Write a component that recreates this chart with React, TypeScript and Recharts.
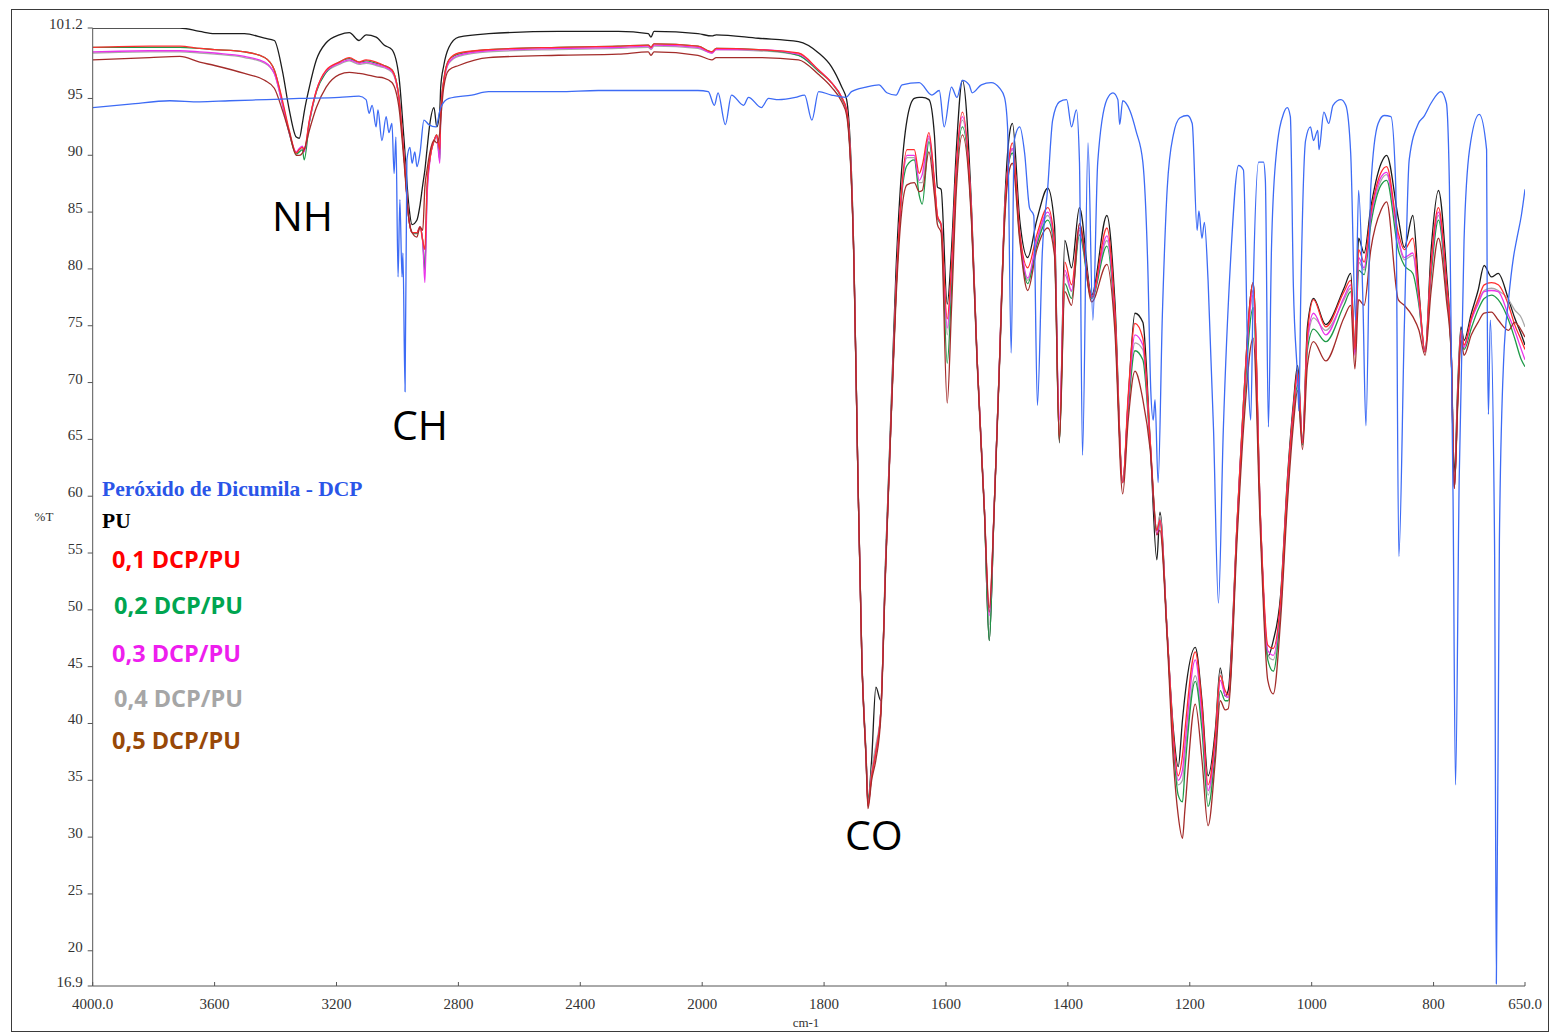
import React from 'react';
import { LineChart, Line, XAxis, YAxis } from 'recharts';

// FTIR transmittance spectra (%T vs. wavenumber, cm-1).
// The wavenumber axis is compressed 2:1 above 2000 cm-1, as on the spectrometer printout.

const puWavenumbers = [
  4000, 3813, 3714, 3649, 3600, 3502, 3436, 3404, 3378, 3355,
  3332, 3322, 3312, 3306, 3289, 3266, 3234, 3191, 3158, 3126,
  3103, 3070, 3044, 3018, 2995, 2979, 2962, 2952, 2936, 2926,
  2917, 2910, 2903, 2894, 2880, 2871, 2861, 2858, 2848, 2831,
  2799, 2701, 2472, 2275, 2177, 2168, 2158, 2014, 1984, 1977,
  1908, 1842, 1809, 1788, 1771, 1763, 1751, 1745, 1738, 1731,
  1728, 1722, 1715, 1707, 1699, 1690, 1682, 1674, 1664, 1652,
  1644, 1639, 1628, 1619, 1614, 1608, 1598, 1591, 1583, 1573,
  1558, 1549, 1537, 1529, 1521, 1512, 1504, 1496, 1491, 1479,
  1466, 1451, 1433, 1422, 1414, 1405, 1394, 1381, 1361, 1336,
  1323, 1310, 1301, 1290, 1277, 1265, 1254, 1249, 1237, 1227,
  1219, 1212, 1208, 1191, 1180, 1170, 1158, 1150, 1142, 1137,
  1122, 1112, 1096, 1084, 1072, 1063, 1051, 1040, 1030, 1023,
  1015, 1007, 997, 977, 947, 936, 929, 923, 914, 903,
  886, 877, 858, 848, 834, 824, 814, 804, 792, 779,
  771, 766, 760, 755, 750, 738, 727, 717, 705, 694,
  677, 667, 656, 650,
];

const puValues = [
  101.2, 101.2, 101.2, 100.9, 100.7, 100.7, 100.3, 100.1, 97.5, 94.0,
  91.6, 91.5, 92.8, 93.8, 96.0, 98.4, 99.9, 100.6, 100.8, 100.1,
  100.6, 100.4, 99.7, 99.3, 96.9, 91.6, 85.4, 83.9, 84.3, 85.6,
  87.4, 88.7, 90.5, 92.7, 94.2, 92.5, 94.0, 96.0, 97.9, 99.5,
  100.4, 100.7, 100.9, 100.9, 100.7, 100.4, 100.9, 100.7, 100.5, 100.6,
  100.3, 100.0, 99.0, 97.8, 96.0, 94.9, 80.9, 63.3, 45.8, 37.1,
  33.2, 36.8, 43.2, 42.0, 54.6, 67.8, 79.9, 87.8, 93.1, 95.0,
  95.1, 95.1, 94.9, 91.8, 87.2, 87.0, 76.9, 81.7, 90.5, 96.6,
  85.3, 72.2, 58.9, 47.3, 58.9, 72.2, 85.3, 91.8, 92.8, 84.3,
  81.0, 84.3, 87.1, 83.9, 64.7, 82.5, 80.1, 85.4, 77.7, 84.7,
  77.3, 61.2, 68.5, 76.1, 75.3, 64.9, 54.4, 58.6, 47.9, 39.5,
  36.2, 40.3, 42.4, 46.7, 42.0, 35.4, 39.5, 44.9, 42.4, 42.9,
  58.1, 68.2, 78.8, 58.1, 45.9, 47.3, 51.3, 61.4, 68.2, 71.5,
  64.9, 74.9, 77.4, 75.1, 78.3, 79.6, 73.2, 82.7, 81.4, 85.4,
  89.3, 90.0, 84.5, 81.9, 84.7, 78.1, 72.7, 81.7, 86.9, 79.9,
  72.6, 62.1, 70.2, 74.9, 73.7, 76.1, 78.1, 80.3, 79.3, 79.6,
  77.3, 75.7, 74.2, 73.3,
];

const dcp01Values = [
  99.5, 99.6, 99.6, 99.4, 99.3, 99.1, 98.6, 97.5, 94.9, 92.2,
  90.2, 90.5, 90.7, 90.5, 93.1, 95.7, 97.5, 98.2, 98.6, 98.2,
  98.4, 98.2, 97.9, 97.5, 95.1, 90.2, 84.3, 83.2, 83.2, 83.7,
  82.5, 81.7, 87.2, 89.6, 91.3, 91.8, 90.5, 93.7, 96.6, 98.4,
  99.0, 99.3, 99.5, 99.6, 99.7, 99.5, 99.8, 99.6, 99.1, 99.4,
  99.3, 99.0, 97.5, 96.4, 95.1, 94.0, 80.6, 63.2, 45.6, 36.8,
  32.8, 35.4, 37.5, 41.0, 53.9, 66.9, 78.1, 86.1, 90.5, 90.5,
  88.4, 89.1, 92.0, 87.8, 84.7, 83.9, 75.6, 80.3, 89.1, 93.8,
  84.7, 72.2, 58.9, 50.2, 58.9, 72.2, 84.7, 90.0, 91.1, 83.2,
  80.1, 83.0, 85.4, 82.5, 65.2, 80.6, 78.6, 83.9, 77.5, 83.6,
  76.4, 61.2, 68.9, 75.2, 73.9, 64.9, 57.0, 57.9, 47.9, 39.0,
  35.4, 37.2, 39.4, 46.3, 41.6, 34.6, 39.0, 44.2, 42.9, 42.5,
  58.1, 68.0, 78.8, 58.1, 46.9, 46.6, 50.9, 61.0, 67.7, 71.1,
  64.7, 74.2, 77.3, 74.9, 78.0, 79.0, 72.9, 81.7, 80.6, 84.9,
  88.5, 89.0, 83.2, 81.7, 82.7, 77.7, 72.7, 80.6, 85.4, 79.0,
  72.6, 60.7, 69.3, 74.6, 73.3, 75.7, 77.3, 78.6, 78.8, 78.6,
  76.8, 75.1, 73.7, 72.9,
];

const dcp02Values = [
  99.5, 99.5, 99.5, 99.4, 99.3, 99.1, 98.6, 97.5, 94.7, 92.0,
  90.1, 90.3, 90.5, 89.6, 92.9, 95.6, 97.3, 98.2, 98.5, 98.2,
  98.3, 98.1, 97.9, 97.5, 95.1, 90.2, 84.3, 83.2, 83.1, 83.7,
  82.4, 79.9, 86.9, 89.6, 91.3, 91.8, 89.6, 93.7, 96.6, 98.4,
  98.9, 99.3, 99.5, 99.6, 99.7, 99.5, 99.8, 99.6, 99.1, 99.4,
  99.3, 98.8, 97.4, 96.4, 95.0, 93.8, 80.5, 63.2, 45.6, 36.8,
  33.0, 35.4, 37.5, 41.0, 53.9, 66.9, 77.9, 85.6, 89.1, 89.6,
  86.5, 85.7, 91.2, 87.4, 84.5, 83.8, 71.7, 78.1, 88.0, 92.5,
  84.3, 72.0, 58.8, 47.3, 58.8, 72.0, 84.3, 89.6, 90.2, 82.8,
  78.7, 82.1, 84.3, 81.7, 64.9, 78.7, 77.4, 83.0, 77.4, 82.0,
  75.5, 61.2, 67.6, 72.8, 72.0, 64.5, 57.0, 57.7, 47.8, 38.1,
  33.7, 33.1, 35.9, 43.7, 39.4, 32.7, 37.6, 42.9, 42.0, 42.0,
  57.5, 67.1, 76.6, 57.5, 45.6, 44.6, 50.0, 60.1, 67.1, 69.8,
  64.5, 72.9, 74.7, 73.6, 76.8, 78.0, 72.7, 79.9, 79.5, 83.9,
  87.4, 87.8, 81.7, 80.3, 79.6, 76.8, 72.7, 79.5, 84.3, 78.1,
  72.4, 60.7, 68.9, 74.2, 72.9, 74.8, 76.4, 77.4, 77.7, 77.3,
  75.5, 73.9, 72.0, 71.4,
];

const dcp03Values = [
  99.1, 99.2, 99.2, 99.1, 99.0, 98.7, 98.2, 97.2, 94.6, 92.0,
  90.3, 90.6, 90.8, 90.3, 93.0, 95.7, 97.4, 98.1, 98.4, 98.1,
  98.2, 98.0, 97.8, 97.4, 95.0, 90.2, 84.3, 83.2, 83.2, 83.7,
  82.4, 78.8, 86.1, 89.4, 91.3, 91.7, 89.3, 93.5, 96.5, 98.2,
  98.8, 99.2, 99.4, 99.5, 99.6, 99.4, 99.7, 99.5, 99.0, 99.3,
  99.3, 98.9, 97.5, 96.4, 95.1, 93.9, 80.6, 63.2, 45.6, 36.8,
  32.8, 35.4, 37.5, 41.0, 53.9, 66.9, 78.1, 85.9, 90.0, 90.0,
  87.8, 88.3, 91.7, 87.6, 84.6, 83.9, 74.8, 79.9, 88.9, 93.4,
  84.6, 72.2, 58.9, 49.5, 58.9, 72.2, 84.6, 89.8, 90.6, 83.1,
  79.2, 82.5, 85.0, 82.1, 66.7, 79.9, 78.1, 83.6, 77.5, 82.9,
  75.9, 61.2, 68.3, 74.2, 73.3, 64.7, 56.6, 57.9, 47.9, 38.7,
  35.0, 35.9, 38.1, 45.6, 40.7, 34.1, 38.5, 43.8, 42.5, 42.3,
  57.9, 67.8, 78.1, 57.9, 46.4, 46.0, 50.6, 60.7, 67.6, 70.7,
  64.7, 73.7, 76.1, 74.2, 77.5, 78.6, 72.4, 81.0, 80.1, 84.5,
  88.1, 88.5, 82.7, 81.0, 81.4, 77.3, 72.7, 80.2, 85.0, 78.7,
  72.6, 60.7, 69.2, 74.4, 73.1, 75.5, 76.9, 78.0, 78.1, 78.0,
  75.9, 74.6, 72.9, 72.0,
];

const dcp04Values = [
  99.0, 99.1, 99.1, 99.0, 98.9, 98.6, 98.1, 97.2, 94.5, 91.9,
  90.2, 90.5, 90.7, 90.5, 92.9, 95.6, 97.3, 98.0, 98.3, 98.0,
  98.1, 97.9, 97.7, 97.3, 95.0, 90.1, 84.3, 83.2, 83.2, 83.6,
  82.5, 80.3, 86.5, 89.5, 91.2, 91.6, 90.0, 93.5, 96.4, 98.1,
  98.7, 99.1, 99.3, 99.4, 99.5, 99.3, 99.6, 99.4, 99.0, 99.3,
  99.2, 98.8, 97.4, 96.4, 95.0, 93.9, 80.6, 63.2, 45.6, 36.8,
  32.8, 35.9, 38.1, 41.0, 53.9, 66.9, 78.1, 85.8, 89.8, 89.8,
  87.6, 87.6, 91.5, 87.6, 84.6, 83.9, 74.2, 79.5, 88.7, 93.1,
  84.5, 72.1, 58.9, 48.7, 58.9, 72.1, 84.5, 89.8, 90.5, 83.0,
  79.0, 82.4, 84.7, 81.9, 65.8, 79.5, 78.0, 83.4, 77.5, 82.5,
  75.8, 61.2, 68.0, 73.5, 72.9, 64.7, 57.0, 58.3, 47.9, 38.5,
  34.6, 35.0, 37.2, 44.2, 40.1, 33.7, 38.3, 44.5, 42.5, 42.3,
  57.7, 67.6, 77.7, 57.7, 46.0, 45.6, 50.4, 60.5, 67.4, 70.4,
  64.7, 73.5, 75.7, 74.6, 77.3, 78.3, 72.7, 80.6, 79.9, 84.3,
  87.8, 88.3, 82.5, 80.8, 81.2, 77.1, 72.7, 79.9, 84.7, 78.5,
  72.6, 60.7, 69.2, 74.6, 73.3, 75.5, 77.1, 78.1, 78.3, 78.1,
  77.3, 76.4, 75.7, 74.9,
];

const dcp05Values = [
  98.4, 98.6, 98.7, 98.2, 97.9, 97.2, 96.6, 95.9, 94.0, 92.0,
  90.0, 90.0, 90.2, 90.5, 92.2, 94.2, 96.0, 97.1, 97.3, 97.2,
  97.1, 96.9, 96.8, 96.4, 94.2, 89.6, 84.3, 83.2, 82.8, 83.7,
  83.4, 87.2, 88.7, 90.2, 91.3, 91.1, 92.0, 93.1, 96.0, 97.5,
  97.9, 98.6, 98.8, 98.9, 99.1, 98.8, 99.1, 98.8, 98.4, 98.6,
  98.6, 98.4, 97.1, 96.0, 94.7, 93.5, 80.3, 63.0, 45.4, 36.6,
  32.5, 35.0, 36.8, 40.5, 53.5, 66.7, 77.3, 84.3, 87.4, 87.6,
  86.8, 86.9, 90.3, 86.5, 83.9, 83.2, 68.2, 76.4, 86.9, 91.8,
  83.9, 71.8, 58.6, 49.8, 58.6, 71.8, 83.9, 88.7, 89.3, 82.5,
  78.1, 81.7, 83.6, 81.2, 64.9, 78.0, 76.8, 84.0, 77.1, 80.4,
  74.6, 60.2, 66.7, 71.0, 68.5, 64.1, 56.6, 57.0, 47.3, 36.8,
  31.9, 29.9, 32.4, 41.7, 36.8, 31.0, 36.8, 42.0, 41.2, 41.3,
  56.6, 65.8, 73.9, 56.6, 43.8, 42.6, 49.1, 59.2, 66.3, 69.3,
  64.1, 71.5, 73.6, 71.9, 75.7, 76.8, 71.2, 77.3, 76.8, 81.7,
  85.2, 85.9, 77.3, 76.8, 75.8, 74.6, 72.4, 78.1, 82.7, 77.3,
  72.4, 60.7, 68.5, 73.7, 72.4, 74.2, 75.3, 76.1, 76.2, 75.5,
  74.6, 75.3, 74.6, 74.0,
];

// Dicumyl peroxide (DCP) spectrum, sampled on its own grid
const dcpWavenumbers = [
  4000, 3878, 3747, 3649, 3551, 3430, 3322, 3191, 3126, 3103,
  3093, 3083, 3070, 3064, 3051, 3037, 3028, 3018, 3011, 3005,
  2998, 2992, 2985, 2982, 2975, 2969, 2959, 2952, 2943, 2936,
  2926, 2913, 2897, 2874, 2858, 2831, 2756, 2701, 2472, 2341,
  2177, 2014, 1990, 1980, 1974, 1962, 1952, 1932, 1924, 1903,
  1891, 1875, 1847, 1832, 1820, 1809, 1788, 1764, 1755, 1731,
  1710, 1697, 1682, 1672, 1644, 1623, 1611, 1603, 1591, 1582,
  1573, 1562, 1557, 1542, 1526, 1512, 1504, 1499, 1493, 1488,
  1479, 1471, 1463, 1456, 1450, 1442, 1433, 1425, 1414, 1402,
  1394, 1386, 1381, 1376, 1367, 1359, 1351, 1336, 1326, 1318,
  1315, 1310, 1298, 1288, 1277, 1269, 1264, 1260, 1257, 1252,
  1245, 1237, 1227, 1216, 1204, 1196, 1188, 1185, 1180, 1176,
  1170, 1161, 1153, 1145, 1133, 1120, 1112, 1104, 1100, 1096,
  1087, 1079, 1076, 1071, 1066, 1059, 1046, 1040, 1035, 1030,
  1023, 1021, 1018, 1010, 1002, 997, 990, 988, 980, 972,
  965, 952, 944, 936, 928, 923, 916, 911, 903, 891,
  881, 870, 862, 857, 848, 840, 825, 816, 804, 788,
  779, 774, 768, 764, 758, 750, 741, 725, 713, 712,
  710, 707, 700, 697, 692, 685, 677, 669, 664, 656,
  650,
];

const dcpValues = [
  94.2, 94.5, 94.8, 94.7, 94.8, 94.9, 95.0, 95.1, 95.2, 94.9,
  93.7, 94.4, 92.5, 94.0, 91.3, 93.4, 92.0, 92.8, 88.4, 91.6,
  79.3, 86.1, 79.3, 81.4, 69.2, 89.6, 90.7, 89.3, 90.3, 89.0,
  90.2, 93.1, 92.7, 92.5, 94.2, 95.0, 95.3, 95.6, 95.6, 95.7,
  95.7, 95.7, 95.6, 94.4, 95.5, 92.7, 95.3, 94.4, 95.1, 94.2,
  95.0, 94.9, 95.1, 95.3, 93.1, 95.6, 95.3, 95.1, 95.6, 96.0,
  96.2, 95.5, 95.3, 96.2, 96.4, 95.3, 95.7, 92.5, 96.0, 95.1,
  96.6, 96.2, 95.5, 96.2, 96.4, 95.9, 95.1, 92.5, 72.6, 91.3,
  92.5, 90.2, 85.4, 84.7, 68.0, 81.4, 87.2, 93.1, 94.7, 94.9,
  92.5, 94.0, 89.4, 63.6, 91.1, 75.5, 89.4, 94.9, 95.5, 94.9,
  92.7, 94.8, 93.9, 92.1, 89.4, 80.4, 69.3, 66.7, 68.5, 61.2,
  75.9, 87.1, 91.8, 93.3, 93.5, 92.8, 83.4, 85.1, 82.7, 84.1,
  79.0, 65.8, 50.6, 65.8, 80.8, 89.1, 88.7, 70.2, 66.7, 78.1,
  89.4, 89.4, 87.8, 66.1, 81.7, 89.6, 93.7, 94.2, 93.4, 78.4,
  70.2, 67.5, 77.3, 91.3, 92.5, 91.3, 92.2, 90.5, 93.8, 92.8,
  94.4, 94.9, 94.4, 90.2, 75.5, 86.9, 77.3, 66.2, 87.2, 92.8,
  93.5, 93.4, 87.2, 54.7, 74.9, 89.6, 92.8, 93.4, 94.6, 95.6,
  94.6, 87.2, 59.7, 34.6, 61.4, 82.5, 90.5, 93.6, 90.5, 77.3,
  67.2, 75.5, 56.1, 17.1, 56.1, 72.0, 77.3, 81.0, 82.5, 84.7,
  87.0,
];

const xTickWavenumbers = [4000, 3600, 3200, 2800, 2400, 2000, 1800, 1600, 1400, 1200, 1000, 800, 650];
const xTickLabels = ['4000.0', '3600', '3200', '2800', '2400', '2000', '1800', '1600', '1400', '1200', '1000', '800', '650.0'];
const yTicks = [16.9, 20, 25, 30, 35, 40, 45, 50, 55, 60, 65, 70, 75, 80, 85, 90, 95, 101.2];

const legendItems = [
  { label: 'Peróxido de Dicumila - DCP', color: '#2a55e8', x: 102, y: 496, serif: true },
  { label: 'PU', color: '#000000', x: 102, y: 528, serif: true },
  { label: '0,1 DCP/PU', color: '#ff0000', x: 112, y: 568, serif: false },
  { label: '0,2 DCP/PU', color: '#00a550', x: 114, y: 614, serif: false },
  { label: '0,3 DCP/PU', color: '#ee1eee', x: 112, y: 662, serif: false },
  { label: '0,4 DCP/PU', color: '#a6a6a6', x: 114, y: 707, serif: false },
  { label: '0,5 DCP/PU', color: '#984807', x: 112, y: 749, serif: false },
];

const bandLabels = [
  { label: 'NH', x: 272, y: 231 },
  { label: 'CH', x: 392, y: 440 },
  { label: 'CO', x: 845, y: 850 },
];

// Piecewise wavenumber axis: 4000-2000 at half the scale of 2000-650
const toAxis = (wn: number) => (wn >= 2000 ? 4000 - wn : 2000 + (2000 - wn) * 2);

const toPoints = (wns: number[], vals: number[]) => wns.map((w, i) => ({ x: toAxis(w), t: vals[i] }));

const series = [
  { name: 'PU', values: puValues, color: '#1c1c1c' },
  { name: '0,4 DCP/PU', values: dcp04Values, color: '#a9a9a9' },
  { name: '0,2 DCP/PU', values: dcp02Values, color: '#1f9a48' },
  { name: '0,3 DCP/PU', values: dcp03Values, color: '#ea34ea' },
  { name: '0,1 DCP/PU', values: dcp01Values, color: '#ff2e2e' },
  { name: '0,5 DCP/PU', values: dcp05Values, color: '#a32c2a' },
];

const xLabelByPos = new Map<number, string>(xTickWavenumbers.map((w, i) => [toAxis(w), xTickLabels[i]]));

const SERIF = "'Liberation Serif', 'DejaVu Serif', serif";
const SANS = "'Open Sans', 'Liberation Sans', sans-serif";

const XTick = (props: any) => {
  const { x, y, payload } = props;
  return (
    <g>
      <line x1={x} x2={x} y1={y - 10} y2={y - 14} stroke="#555" strokeWidth={1} />
      <text x={x} y={y + 13} textAnchor="middle" fontFamily={SERIF} fontSize={15} fill="#333">
        {xLabelByPos.get(payload.value) ?? ''}
      </text>
    </g>
  );
};

const YTick = (props: any) => {
  const { x, y, payload } = props;
  return (
    <g>
      <line x1={x + 5} x2={x + 10} y1={y} y2={y} stroke="#555" strokeWidth={1} />
      <text x={x} y={y + 1} textAnchor="end" fontFamily={SERIF} fontSize={15} fill="#333">
        {String(payload.value)}
      </text>
    </g>
  );
};

export default function App() {
  return (
    <div style={{ position: 'fixed', left: 0, top: 0, width: 1557, height: 1032, background: '#fff' }}>
      <LineChart width={1557} height={1032} margin={{ top: 28, right: 32, bottom: 16, left: 22.7 }}>
        <XAxis
          type="number"
          dataKey="x"
          domain={[0, 4700]}
          allowDataOverflow
          ticks={xTickWavenumbers.map(toAxis)}
          interval={0}
          height={30}
          tickSize={4}
          tickMargin={6}
          tickLine={false}
          axisLine={{ stroke: '#555', strokeWidth: 1 }}
          tick={<XTick />}
        />
        <YAxis
          type="number"
          domain={[16.9, 101.2]}
          allowDataOverflow
          ticks={yTicks}
          interval={0}
          width={70}
          tickSize={5}
          tickMargin={5}
          tickLine={false}
          axisLine={{ stroke: '#555', strokeWidth: 1 }}
          tick={<YTick />}
        />
        {series.map((s) => (
          <Line
            key={s.name}
            name={s.name}
            data={toPoints(puWavenumbers, s.values)}
            dataKey="t"
            type="monotoneX"
            stroke={s.color}
            strokeWidth={1.3}
            dot={false}
            activeDot={false}
            isAnimationActive={false}
          />
        ))}
        <Line
          name="Peróxido de Dicumila - DCP"
          data={toPoints(dcpWavenumbers, dcpValues)}
          dataKey="t"
          type="monotoneX"
          stroke="#3d6bf5"
          strokeWidth={1.3}
          dot={false}
          activeDot={false}
          isAnimationActive={false}
        />
      </LineChart>

      <svg
        width={1557}
        height={1032}
        style={{ position: 'absolute', left: 0, top: 0, pointerEvents: 'none' }}
      >
        <text x={44} y={521} textAnchor="middle" fontFamily={SERIF} fontSize={13} fill="#333">%T</text>
        <text x={806} y={1027} textAnchor="middle" fontFamily={SERIF} fontSize={13} fill="#333">cm-1</text>
        {legendItems.map((it) => (
          <text
            key={it.label}
            x={it.x}
            y={it.y}
            fontFamily={it.serif ? SERIF : SANS}
            fontWeight="bold"
            fontSize={it.serif ? 21.5 : 23.5}
            fill={it.color}
          >
            {it.label}
          </text>
        ))}
        {bandLabels.map((b) => (
          <text key={b.label} x={b.x} y={b.y} fontFamily={SANS} fontSize={41} fill="#000">
            {b.label}
          </text>
        ))}
      </svg>

      <div
        style={{
          position: 'absolute',
          left: 11,
          top: 9,
          width: 1538,
          height: 1023,
          border: '1.5px solid #3a3a3a',
          boxSizing: 'border-box',
          pointerEvents: 'none',
        }}
      />
    </div>
  );
}
